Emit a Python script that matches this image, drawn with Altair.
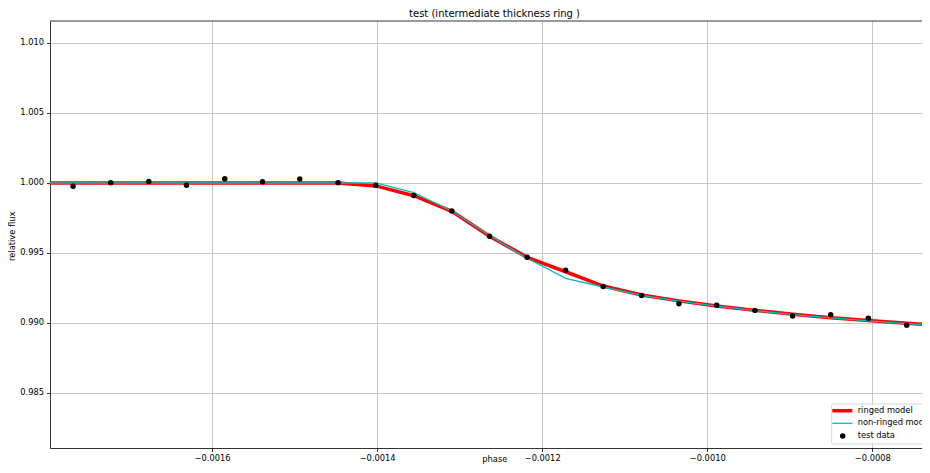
import altair as alt
import pandas as pd

FONT = "DejaVu Sans"

# ---- data ----
data_phase = [-0.0017685, -0.0017228, -0.0016767, -0.0016310, -0.0015846, -0.0015389,
              -0.0014937, -0.0014473, -0.0014016, -0.0013555, -0.0013095, -0.0012638,
              -0.0012182, -0.0011716, -0.0011261, -0.0010795, -0.0010343, -0.0009886,
              -0.0009422, -0.0008965, -0.0008504, -0.0008048, -0.0007583]
data_flux = [0.99976, 1.00002, 1.00011, 0.99983, 1.00031, 1.00009,
             1.00029, 1.00002, 0.99983, 0.99911, 0.99800, 0.99619,
             0.99469, 0.99376, 0.99261, 0.99197, 0.99138, 0.99126,
             0.99090, 0.99050, 0.99059, 0.99033, 0.98983]

model_phase = [-0.0018146, -0.0017685, -0.0017228, -0.0016767, -0.0016310, -0.0015846,
               -0.0015389, -0.0014937, -0.0014473, -0.0014016, -0.0013555, -0.0013095,
               -0.0012638, -0.0012182, -0.0011716, -0.0011261, -0.0010795, -0.0010343,
               -0.0009886, -0.0009422, -0.0008965, -0.0008504, -0.0008048, -0.0007583,
               -0.0007127]
ringed_flux = [1.00000, 1.00000, 1.00000, 1.00000, 1.00000, 1.00000,
               1.00000, 1.00000, 0.99999, 0.99979, 0.99909, 0.99798,
               0.99620, 0.99469, 0.99366, 0.99264, 0.99200, 0.99158,
               0.99122, 0.99090, 0.99062, 0.99038, 0.99017, 0.98998,
               0.98981]
nonringed_flux = [1.00000, 1.00000, 1.00000, 1.00000, 1.00000, 1.00000,
                  1.00000, 1.00000, 1.00000, 1.00000, 0.99931, 0.99800,
                  0.99625, 0.99462, 0.99319, 0.99257, 0.99197, 0.99156,
                  0.99120, 0.99088, 0.99060, 0.99036, 0.99015, 0.98996,
                  0.98979]

legend_labels = ["ringed model", "non-ringed model", "test data"]

x_ticks = [-0.0016, -0.0014, -0.0012, -0.0010, -0.0008]
y_ticks = [0.985, 0.990, 0.995, 1.000, 1.005, 1.010]
x_domain = [-0.0017964, -0.00073976]
y_domain = [0.98107, 1.01157]

W, H = 872, 427

data_df = pd.DataFrame({"phase": data_phase, "flux": data_flux})
ringed_df = pd.DataFrame({"phase": model_phase, "flux": ringed_flux})
nonringed_df = pd.DataFrame({"phase": model_phase, "flux": nonringed_flux})
legend_df = pd.DataFrame({"label": legend_labels})

x_enc = alt.X(
    "phase:Q",
    scale=alt.Scale(domain=x_domain, nice=False, zero=False),
    axis=alt.Axis(values=x_ticks, format=".4f", title="phase",
                  titleX=444.3, titleY=11, titleBaseline="middle",
                  titleAlign="center", labelPadding=2, labelFlush=False),
)
y_enc = alt.Y(
    "flux:Q",
    scale=alt.Scale(domain=y_domain, nice=False, zero=False),
    axis=alt.Axis(values=y_ticks, format=".3f", title="relative flux",
                  titleX=-37.7, titleY=214.8, titleBaseline="middle",
                  titleAlign="center", labelPadding=3, labelFlush=False),
)

ringed = alt.Chart(ringed_df).mark_line(color="#ff0000", strokeWidth=3.5, clip=True).encode(x=x_enc, y=y_enc)
nonringed = alt.Chart(nonringed_df).mark_line(color="#00bfbf", strokeWidth=1.3, clip=True).encode(x=x_enc, y=y_enc)
points = alt.Chart(data_df).mark_circle(color="black", size=30, opacity=1, clip=True).encode(x=x_enc, y=y_enc)

first = alt.datum.label == legend_labels[0]

# top spine
top_spine = alt.Chart(legend_df).transform_filter(first).mark_rule(
    color="black", strokeWidth=0.8
).encode(x=alt.value(0), x2=alt.value(W), y=alt.value(0))

# ---- legend (inside the plot, lower right) ----
lx, ly = 781.7, 383.0
leg_box = alt.Chart(legend_df).transform_filter(first).mark_rect(
    fill="white", fillOpacity=0.8, stroke="#cccccc", strokeWidth=0.8, cornerRadius=2
).encode(x=alt.value(lx), x2=alt.value(lx + 150), y=alt.value(ly), y2=alt.value(ly + 40))
leg_red = alt.Chart(legend_df).transform_filter(first).mark_rule(color="#ff0000", strokeWidth=3.5).encode(
    x=alt.value(lx + 0.6), x2=alt.value(lx + 20.6), y=alt.value(ly + 6.7))
leg_cyan = alt.Chart(legend_df).transform_filter(first).mark_rule(color="#00bfbf", strokeWidth=1.3).encode(
    x=alt.value(lx + 0.6), x2=alt.value(lx + 20.6), y=alt.value(ly + 19.3))
leg_dot = alt.Chart(legend_df).transform_filter(first).mark_circle(color="black", size=30, opacity=1).encode(
    x=alt.value(lx + 11), y=alt.value(ly + 32))
leg_texts = []
for i, lab in enumerate(legend_labels):
    leg_texts.append(
        alt.Chart(legend_df).transform_filter(alt.datum.label == lab).mark_text(
            align="left", baseline="middle", font=FONT, fontSize=8.3, color="black"
        ).encode(text="label:N", x=alt.value(lx + 26), y=alt.value(ly + 6.7 + 12.65 * i))
    )

chart = alt.layer(
    ringed, nonringed, points, top_spine, leg_box, leg_red, leg_cyan, leg_dot, *leg_texts
).properties(
    width=W,
    height=H,
    title=alt.TitleParams(
        "test (intermediate thickness ring )", font=FONT, fontSize=10,
        fontWeight="normal", color="black", anchor="middle", offset=1.5, dx=8.5,
    ),
    autosize=alt.AutoSizeParams(type="none"),
    padding={"left": 42, "top": 13, "right": 0, "bottom": 16},
).configure_axis(
    labelFont=FONT, labelFontSize=8.3, labelColor="black",
    titleFont=FONT, titleFontSize=8.3, titleFontWeight="normal", titleColor="black",
    domainColor="black", domainWidth=0.8,
    tickColor="black", tickWidth=0.8, tickSize=3.5,
    grid=True, gridColor="#bfbfbf", gridWidth=0.9,
    labelOverlap=False,
).configure_view(
    stroke=None
)

chart.save("out.html", embed_options={"renderer": "svg", "actions": False})
